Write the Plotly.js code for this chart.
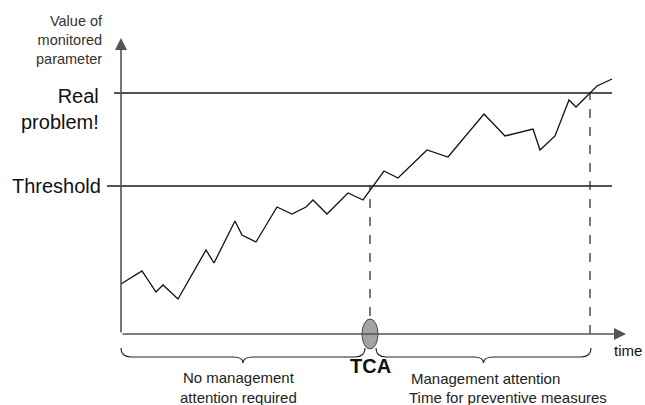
<!DOCTYPE html>
<html>
<head>
<meta charset="utf-8">
<script src="https://cdn.plot.ly/plotly-3.0.1.min.js"></script>
<style>html,body{margin:0;padding:0;background:#fff;}#chart{width:645px;height:405px;}</style>
</head>
<body>
<div id="chart"></div>
<script>
// ---- data (time units, parameter units) ----
const timeSteps   = [0, 21, 35, 42, 57, 85, 93, 114, 121, 135, 156, 171, 185, 192, 206, 227, 242, 263, 277, 306, 327, 363, 384, 412, 419, 434, 448, 455, 476, 491];
const paramValues = [50, 63, 42, 49, 35, 84, 71, 113, 99, 92, 127, 120, 127, 134, 120, 141, 134, 163, 156, 184, 177, 220, 198, 205, 184, 198, 234, 227, 248, 255];
const thresholdValue = 148;
const realProblemValue = 241;
const tcaTime = 249;
const problemTime = 469;
const yAxisTop = 296;
const xAxisEnd = 505;
const levelLabels = ["Threshold", "Real<br>problem!"];
const yAxisLabel = "Value of<br>monitored<br>parameter";
const xAxisLabel = "time";
const phaseLabels = ["No management<br>attention required", "Management attention", "Time for preventive measures"];
const tcaLabel = "TCA";

const FONT = "Liberation Sans, Arial, Helvetica, sans-serif";
const AX = "#555";

function bracePath(x0, x1, yEnd, yBody, yTip) {
  const xm = (x0 + x1) / 2, r = 10;
  return `M ${x0},${yEnd} Q ${x0},${yBody} ${x0 + r},${yBody} L ${xm - r},${yBody} ` +
         `Q ${xm},${yBody} ${xm},${yTip} Q ${xm},${yBody} ${xm + r},${yBody} ` +
         `L ${x1 - r},${yBody} Q ${x1},${yBody} ${x1},${yEnd}`;
}

const trace = {
  x: timeSteps, y: paramValues, type: "scatter", mode: "lines",
  line: {color: "#111", width: 1.3}, hoverinfo: "skip"
};

const shapes = [
  {type: "line", xref: "x", yref: "y", x0: -14, x1: 491, y0: thresholdValue, y1: thresholdValue, line: {color: "#1a1a1a", width: 1.3}},
  {type: "line", xref: "x", yref: "y", x0: -7, x1: 491, y0: realProblemValue, y1: realProblemValue, line: {color: "#1a1a1a", width: 1.3}},
  {type: "line", xref: "x", yref: "y", x0: tcaTime, x1: tcaTime, y0: 0, y1: thresholdValue, line: {color: "#222", width: 1.2, dash: "dash"}},
  {type: "line", xref: "x", yref: "y", x0: problemTime, x1: problemTime, y0: 0, y1: realProblemValue, line: {color: "#222", width: 1.2, dash: "dash"}},
  {type: "path", xref: "x", yref: "y", path: bracePath(0, tcaTime - 5, -14, -23, -29), line: {color: "#222", width: 1.2}},
  {type: "path", xref: "x", yref: "y", path: bracePath(tcaTime + 6, problemTime + 1, -14, -23, -29), line: {color: "#222", width: 1.2}}
];

const annotations = [
  // axes with arrowheads
  {x: 0, y: yAxisTop, ax: 0, ay: 0, axref: "x", ayref: "y", xref: "x", yref: "y", text: "", showarrow: true, arrowhead: 2, arrowsize: 1.5, arrowwidth: 1.6, arrowcolor: AX, standoff: 0},
  {x: xAxisEnd, y: 0, ax: 0, ay: 0, axref: "x", ayref: "y", xref: "x", yref: "y", text: "", showarrow: true, arrowhead: 2, arrowsize: 1.5, arrowwidth: 1.6, arrowcolor: AX, standoff: 0},
  // labels
  {x: -16, y: 294, xref: "x", yref: "y", text: yAxisLabel, showarrow: false, xanchor: "right", yanchor: "middle", align: "right", font: {family: FONT, size: 14.5, color: "#333"}},
  {x: -20, y: 225.5, xref: "x", yref: "y", text: levelLabels[1], showarrow: false, xanchor: "right", yanchor: "middle", align: "right", font: {family: FONT, size: 20, color: "#111"}},
  {x: -18, y: thresholdValue, xref: "x", yref: "y", text: levelLabels[0], showarrow: false, xanchor: "right", yanchor: "middle", align: "right", font: {family: FONT, size: 20, color: "#111"}},
  {x: tcaTime, y: -32, xref: "x", yref: "y", text: "<b>" + tcaLabel + "</b>", showarrow: false, xanchor: "center", yanchor: "middle", font: {family: FONT, size: 20, color: "#111"}},
  {x: 117, y: -53, xref: "x", yref: "y", text: phaseLabels[0], showarrow: false, xanchor: "center", yanchor: "middle", align: "center", font: {family: FONT, size: 15, color: "#222"}},
  {x: 364, y: -44, xref: "x", yref: "y", text: phaseLabels[1], showarrow: false, xanchor: "center", yanchor: "middle", font: {family: FONT, size: 15, color: "#222"}},
  {x: 387, y: -63, xref: "x", yref: "y", text: phaseLabels[2], showarrow: false, xanchor: "center", yanchor: "middle", font: {family: FONT, size: 15, color: "#222"}},
  {x: 491, y: -16, xref: "x", yref: "y", text: xAxisLabel, showarrow: false, xanchor: "left", yanchor: "middle", font: {family: FONT, size: 15, color: "#111"}}
];

const layout = {
  width: 645, height: 405,
  margin: {l: 0, r: 0, t: 0, b: 0, pad: 0},
  paper_bgcolor: "#fff", plot_bgcolor: "#fff",
  showlegend: false,
  xaxis: {range: [-121, 524], visible: false, fixedrange: true},
  yaxis: {range: [-71, 334], visible: false, fixedrange: true},
  shapes: shapes,
  annotations: annotations
};

// TCA marker (ellipse) drawn above axis line
layout.shapes.push({type: "circle", xref: "x", yref: "y", x0: tcaTime - 8, x1: tcaTime + 8, y0: -15, y1: 15, fillcolor: "#a3a3a3", line: {color: "#444", width: 1}, layer: "above"});

Plotly.newPlot("chart", [trace], layout, {staticPlot: true, displayModeBar: false});
</script>
</body>
</html>
